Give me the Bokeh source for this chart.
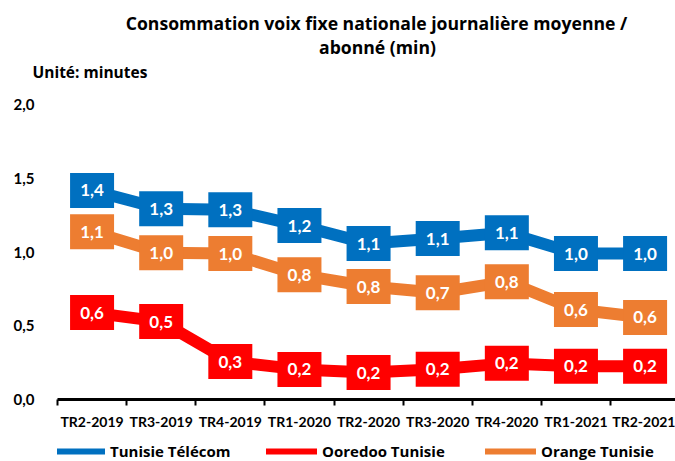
from bokeh.plotting import figure
from bokeh.layouts import column
from bokeh.models import Range1d, FixedTicker, Legend, LegendItem, Title
from bokeh.core.properties import value
from bokeh.embed import file_html
from bokeh.resources import INLINE

categories = ["TR2-2019", "TR3-2019", "TR4-2019", "TR1-2020", "TR2-2020",
              "TR3-2020", "TR4-2020", "TR1-2021", "TR2-2021"]
tunisie_telecom = [1.417, 1.293, 1.287, 1.179, 1.057, 1.091, 1.130, 0.989, 0.989]
ooredoo_tunisie = [0.589, 0.528, 0.257, 0.204, 0.183, 0.205, 0.245, 0.225, 0.225]
orange_tunisie = [1.137, 0.995, 0.989, 0.845, 0.766, 0.724, 0.799, 0.610, 0.556]
series_names = ["Tunisie Télécom", "Ooredoo Tunisie", "Orange Tunisie"]
y_ticks = [0.0, 0.5, 1.0, 1.5, 2.0]
y_tick_labels = ["0,0", "0,5", "1,0", "1,5", "2,0"]
title_lines = ["Consommation voix fixe nationale journalière moyenne /", "abonné (min)"]
unit_text = "Unité: minutes"

colors = ["#0070C0", "#FF0000", "#ED7D31"]
FONT = "Lato"
FONT2 = "Open Sans"

W = 675
TOP_H, MAIN_H, LEG_H = 86, 353, 22
TOP_FRAME_H = 60
FRAME_LEFT = 57
x_pos = [i + 0.5 for i in range(len(categories))]
all_series = [tunisie_telecom, ooredoo_tunisie, orange_tunisie]

# ---------- header: title in frame, unit in the panel below ----------
top = figure(width=W, height=TOP_H, output_backend="svg", toolbar_location=None,
             x_range=Range1d(FRAME_LEFT, W), y_range=Range1d(TOP_FRAME_H, 0),
             x_axis_type=None, y_axis_type=None, min_border=0,
             min_border_left=0, min_border_right=0, min_border_top=0,
             min_border_bottom=TOP_H - TOP_FRAME_H,
             outline_line_color=None, border_fill_color="white",
             background_fill_color="white")
top.grid.visible = False
top.text(x=[376, 377], y=[23, 48], text=title_lines, text_align="center",
         text_baseline="middle", text_font=value(FONT2), text_font_style="bold",
         text_font_size="17.6px", text_color="black")
top.add_layout(Title(text=unit_text, align="left", offset=-25, standoff=4,
                     vertical_align="top",
                     text_font=FONT2, text_font_style="bold", text_font_size="15.5px",
                     text_color="black"), "below")

# ---------- main chart ----------
p = figure(width=W, height=MAIN_H, output_backend="svg", toolbar_location=None,
           x_range=Range1d(0, 8.94), y_range=Range1d(0, 2.0),
           min_border_left=FRAME_LEFT, min_border_right=0, min_border_top=18,
           min_border_bottom=40, outline_line_color=None,
           background_fill_color="white", border_fill_color="white")
p.grid.visible = False

xa = p.xaxis[0]
xa.ticker = FixedTicker(ticks=x_pos, minor_ticks=list(range(len(categories) + 1)))
xa.major_label_overrides = {x: c for x, c in zip(x_pos, categories)}
xa.axis_line_color = "black"
xa.axis_line_width = 3
xa.major_tick_out = 0
xa.major_tick_in = 0
xa.minor_tick_out = 6
xa.minor_tick_in = 0
xa.minor_tick_line_width = 2
xa.minor_tick_line_color = "black"
xa.major_label_text_font = FONT
xa.major_label_text_font_style = "bold"
xa.major_label_text_font_size = "14px"
xa.major_label_text_color = "black"
xa.major_label_standoff = 7

ya = p.yaxis[0]
ya.ticker = FixedTicker(ticks=y_ticks)
ya.major_label_overrides = {t: l for t, l in zip(y_ticks, y_tick_labels)}
ya.axis_line_color = None
ya.major_tick_line_color = None
ya.minor_tick_line_color = None
ya.major_label_text_font = FONT
ya.major_label_text_font_style = "bold"
ya.major_label_text_font_size = "15px"
ya.major_label_text_color = "black"
ya.major_label_standoff = 17

for vals, col in zip(all_series, colors):
    p.line(x_pos, vals, line_color=col, line_width=12)

for vals, col in zip(all_series, colors):
    labels = [f"{v:.1f}".replace(".", ",") for v in vals]
    p.rect(x_pos, vals, width=44, height=35, width_units="screen",
           height_units="screen", fill_color=col, line_color=None)
    p.text(x_pos, vals, text=labels, text_align="center", text_baseline="middle",
           text_color="white", text_font=value(FONT), text_font_style="bold",
           text_font_size="17px")

# ---------- legend strip (frame spans page x 57..675) ----------
lg = figure(width=W, height=LEG_H, output_backend="svg", toolbar_location=None,
            x_range=Range1d(0, 1), y_range=Range1d(100, 101),
            x_axis_type=None, y_axis_type=None, min_border=0,
            min_border_left=0, min_border_right=0, min_border_top=0,
            min_border_bottom=0,
            outline_line_color=None, border_fill_color="white",
            background_fill_color="white")
lg.grid.visible = False
legend_x = [0, 209, 428]
glyph_w = [48, 51, 51]
standoff = [5, 5, 5]
for name, col, vals, lx, gw, so in zip(series_names, colors, all_series,
                                       legend_x, glyph_w, standoff):
    # renderer out of view (y range 100..101): only its legend glyph shows
    r = lg.line(x_pos, vals, line_color=col, line_width=6, line_cap="round")
    leg = Legend(items=[LegendItem(label=name, renderers=[r])],
                 orientation="horizontal", location=(lx, 0),
                 glyph_width=gw, glyph_height=16, label_standoff=so,
                 padding=0, margin=0, border_line_color=None,
                 background_fill_alpha=0, label_text_font=FONT2,
                 label_text_font_style="bold", label_text_font_size="15px",
                 label_text_color="black")
    lg.add_layout(leg, "center")

layout = column(top, p, lg, spacing=0)
open("out.html", "w").write(file_html(layout, INLINE))
